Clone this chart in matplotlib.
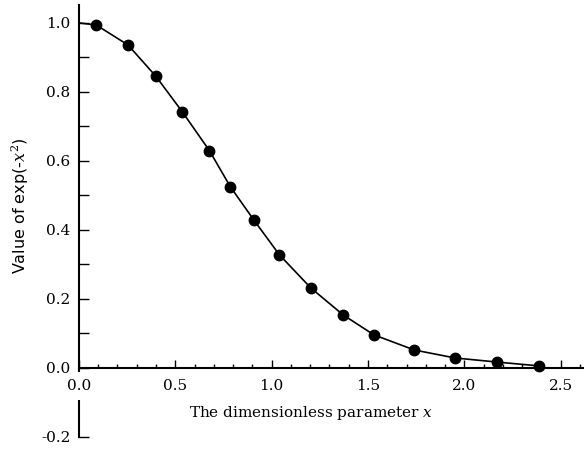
import matplotlib
matplotlib.use("Agg")
import matplotlib.pyplot as plt
from matplotlib.ticker import MultipleLocator, FixedLocator

plt.rcParams["axes.unicode_minus"] = False
plt.rcParams["mathtext.fontset"] = "dejavuserif"

x_points = [0.09, 0.255, 0.40, 0.537, 0.677, 0.786, 0.906, 1.04, 1.203, 1.37, 1.53, 1.74, 1.95, 2.17, 2.385]
y_points = [0.994, 0.936, 0.845, 0.742, 0.630, 0.525, 0.430, 0.328, 0.232, 0.154, 0.096, 0.052, 0.029, 0.017, 0.006]

# curve starts at the axis
x_curve = [0.0] + x_points
y_curve = [1.0] + y_points

x_ticks = [0.0, 0.5, 1.0, 1.5, 2.0, 2.5]
y_ticks = [-0.2, 0.0, 0.2, 0.4, 0.6, 0.8, 1.0]
y_minor = [0.1, 0.3, 0.5, 0.7, 0.9]

fig = plt.figure(figsize=(5.84, 4.5), dpi=100)
ax = fig.add_axes([0.135, 0.029, 0.865, 0.96])

ax.plot(x_curve, y_curve, color="black", lw=1.2, zorder=3)
ax.plot(x_points, y_points, "o", color="black", ms=7.5, zorder=4)

ax.set_xlim(0, 2.62)
ax.set_ylim(-0.2, 1.052)

ax.spines["top"].set_visible(False)
ax.spines["right"].set_visible(False)
ax.spines["left"].set_position(("data", 0))
ax.spines["bottom"].set_position(("data", 0))
ax.spines["left"].set_linewidth(1.5)
ax.spines["bottom"].set_linewidth(1.5)

ax.set_xticks(x_ticks)
ax.set_yticks(y_ticks)
ax.xaxis.set_minor_locator(MultipleLocator(0.1))
ax.yaxis.set_minor_locator(FixedLocator(y_minor))
ax.tick_params(axis="x", which="major", direction="in", length=6, width=1, pad=8)
ax.tick_params(axis="x", which="minor", direction="in", length=3, width=1)
ax.tick_params(axis="y", which="both", direction="in", length=7, width=1, pad=6)

for lbl in ax.get_xticklabels() + ax.get_yticklabels():
    lbl.set_fontfamily("DejaVu Serif")
    lbl.set_fontsize(11)
# white boxes behind the x labels break the left spine below zero
for lbl in ax.get_xticklabels():
    lbl.set_bbox(dict(facecolor="white", edgecolor="none", pad=5))
ax.xaxis.set_zorder(3)
ax.yaxis.set_zorder(3.5)

ax.set_xlabel("The dimensionless parameter $x$", fontsize=11, fontfamily="DejaVu Serif")
ax.xaxis.set_label_coords(0.46, 0.076)
ax.set_ylabel("Value of exp(-$x^2$)", fontsize=11.5)
ax.yaxis.set_label_coords(-0.094, 0.535)

fig.savefig("out.png", dpi=100)
